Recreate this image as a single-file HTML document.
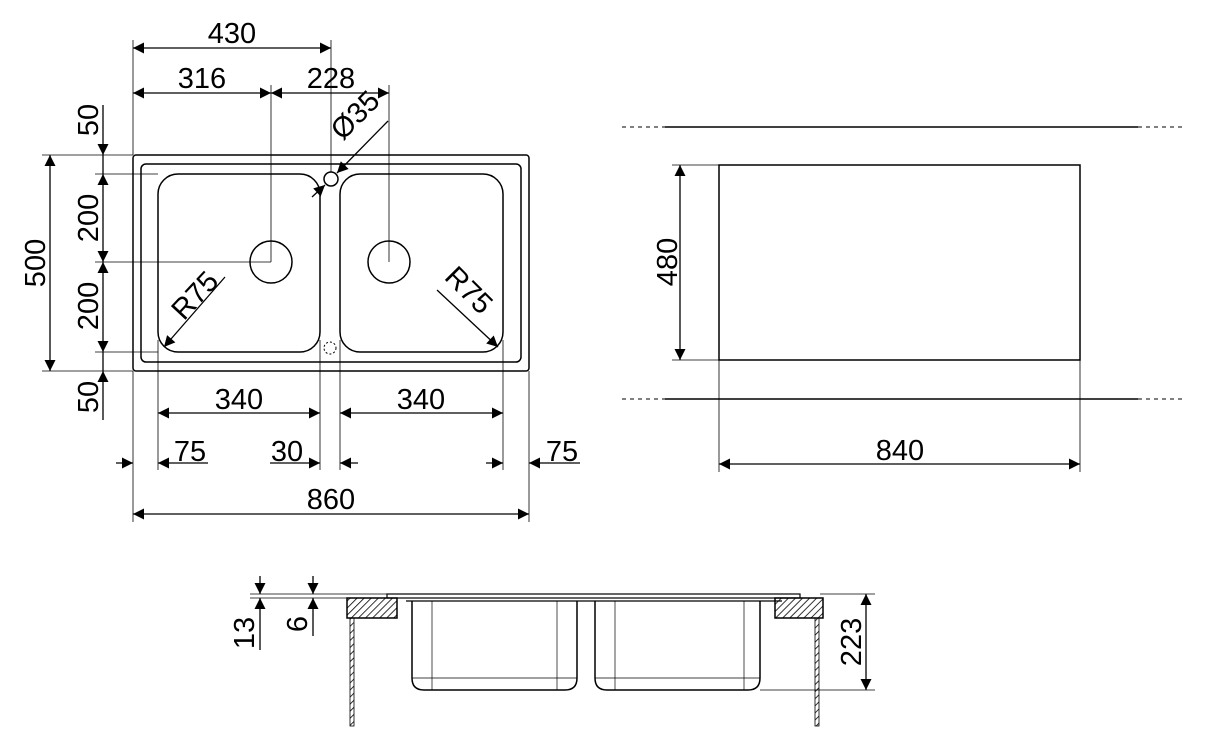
<!DOCTYPE html>
<html><head><style>
html,body{margin:0;padding:0;background:#fff;}
svg{display:block;}
text{font-family:"Liberation Sans",sans-serif;font-size:29px;fill:#000;}
</style></head><body>
<svg width="1206" height="748" viewBox="0 0 1206 748" xmlns="http://www.w3.org/2000/svg">
<defs>
<marker id="a" viewBox="0 0 10 10" refX="10" refY="5" markerWidth="17" markerHeight="11" markerUnits="userSpaceOnUse" orient="auto-start-reverse"><path d="M0,0 L10,5 L0,10 z" fill="#000"/></marker>
<pattern id="h" width="5" height="5" patternUnits="userSpaceOnUse" patternTransform="rotate(45)"><line x1="0" y1="0" x2="0" y2="5" stroke="#000" stroke-width="1.6"/></pattern>
</defs>
<g fill="none" stroke="#000" stroke-width="1.5">
<rect x="133" y="155" width="396" height="216" rx="3"/>
<rect x="141" y="164" width="380" height="198" rx="5"/>
<rect x="158" y="174" width="162" height="178" rx="20"/>
<rect x="340" y="174" width="163" height="178" rx="20"/>
<circle cx="271" cy="262" r="21"/>
<circle cx="389" cy="262" r="21"/>
<circle cx="331" cy="179" r="7"/>
<circle cx="330" cy="348" r="6" stroke-dasharray="2,2" stroke-width="1"/>
</g>
<g stroke="#000" stroke-width="0.8" fill="none">
<line x1="133" y1="40" x2="133" y2="155"/><line x1="331" y1="40" x2="331" y2="172"/>
<line x1="271" y1="85" x2="271" y2="262"/><line x1="389" y1="85" x2="389" y2="262"/>
<line x1="42" y1="155" x2="133" y2="155"/><line x1="42" y1="371" x2="133" y2="371"/>
<line x1="95" y1="174" x2="158" y2="174"/><line x1="95" y1="262" x2="271" y2="262"/><line x1="95" y1="352" x2="158" y2="352"/>
<line x1="133" y1="371" x2="133" y2="522"/><line x1="529" y1="371" x2="529" y2="522"/>
<line x1="158" y1="340" x2="158" y2="470"/><line x1="320" y1="340" x2="320" y2="470"/><line x1="340" y1="340" x2="340" y2="470"/><line x1="503" y1="340" x2="503" y2="470"/>
<line x1="719" y1="360" x2="719" y2="472"/><line x1="1080" y1="360" x2="1080" y2="472"/>
<line x1="672" y1="165" x2="719" y2="165"/><line x1="672" y1="360" x2="719" y2="360"/>
<line x1="250" y1="594" x2="400" y2="594"/><line x1="250" y1="598" x2="347" y2="598"/>
<line x1="820" y1="594" x2="875" y2="594"/><line x1="760" y1="690" x2="875" y2="690"/>
</g>
<g stroke="#000" stroke-width="1.3" fill="none">
<line x1="133" y1="48" x2="331" y2="48" marker-start="url(#a)" marker-end="url(#a)"/>
<line x1="133" y1="93" x2="271" y2="93" marker-start="url(#a)" marker-end="url(#a)"/>
<line x1="271" y1="93" x2="389" y2="93" marker-start="url(#a)" marker-end="url(#a)"/>
<line x1="388" y1="121" x2="337" y2="173" marker-end="url(#a)"/>
<line x1="312" y1="197" x2="325" y2="185" marker-end="url(#a)"/>
<line x1="50" y1="155" x2="50" y2="371" marker-start="url(#a)" marker-end="url(#a)"/>
<line x1="103" y1="105" x2="103" y2="155" marker-end="url(#a)"/>
<line x1="103" y1="174" x2="103" y2="262" marker-start="url(#a)" marker-end="url(#a)"/>
<line x1="103" y1="262" x2="103" y2="352" marker-start="url(#a)" marker-end="url(#a)"/>
<line x1="103" y1="420" x2="103" y2="371" marker-end="url(#a)"/>
<line x1="103" y1="155" x2="103" y2="174"/>
<line x1="103" y1="352" x2="103" y2="371"/>
<line x1="225" y1="277" x2="164" y2="347" marker-end="url(#a)"/>
<line x1="437" y1="290" x2="498" y2="347" marker-end="url(#a)"/>
<line x1="158" y1="413" x2="320" y2="413" marker-start="url(#a)" marker-end="url(#a)"/>
<line x1="340" y1="413" x2="503" y2="413" marker-start="url(#a)" marker-end="url(#a)"/>
<line x1="116" y1="463" x2="133" y2="463" marker-end="url(#a)"/>
<line x1="208" y1="463" x2="158" y2="463" marker-end="url(#a)"/>
<line x1="270" y1="463" x2="320" y2="463" marker-end="url(#a)"/>
<line x1="358" y1="463" x2="340" y2="463" marker-end="url(#a)"/>
<line x1="486" y1="463" x2="503" y2="463" marker-end="url(#a)"/>
<line x1="580" y1="463" x2="529" y2="463" marker-end="url(#a)"/>
<line x1="133" y1="514" x2="529" y2="514" marker-start="url(#a)" marker-end="url(#a)"/>
<line x1="680" y1="165" x2="680" y2="360" marker-start="url(#a)" marker-end="url(#a)"/>
<line x1="719" y1="464" x2="1080" y2="464" marker-start="url(#a)" marker-end="url(#a)"/>
<line x1="260" y1="576" x2="260" y2="594" marker-end="url(#a)"/>
<line x1="260" y1="650" x2="260" y2="598" marker-end="url(#a)"/>
<line x1="313" y1="576" x2="313" y2="594" marker-end="url(#a)"/>
<line x1="313" y1="636" x2="313" y2="598" marker-end="url(#a)"/>
<line x1="866" y1="594" x2="866" y2="690" marker-start="url(#a)" marker-end="url(#a)"/>
</g>
<g stroke="#000" stroke-width="1.5" fill="none">
<rect x="719" y="165" width="361" height="195"/>
<line x1="665" y1="127" x2="1138" y2="127"/><line x1="665" y1="399" x2="1138" y2="399"/>
<line x1="622" y1="127" x2="665" y2="127" stroke-dasharray="4,4" stroke-width="1"/>
<line x1="1138" y1="127" x2="1183" y2="127" stroke-dasharray="4,4" stroke-width="1"/>
<line x1="622" y1="399" x2="665" y2="399" stroke-dasharray="4,4" stroke-width="1"/>
<line x1="1138" y1="399" x2="1183" y2="399" stroke-dasharray="4,4" stroke-width="1"/>
<rect x="387" y="594" width="413" height="4" stroke-width="1.2"/>
<line x1="406" y1="601" x2="782" y2="601" stroke-width="1.2"/>
<path d="M412,601 V678 Q412,690 424,690 H565 Q577,690 577,678 V601"/>
<path d="M595,601 V678 Q595,690 607,690 H748 Q760,690 760,678 V601"/>
<g stroke-width="0.7"><line x1="432" y1="601" x2="432" y2="690"/><line x1="557" y1="601" x2="557" y2="690"/><line x1="412" y1="678" x2="577" y2="678"/>
<line x1="615" y1="601" x2="615" y2="690"/><line x1="744" y1="601" x2="744" y2="690"/><line x1="595" y1="678" x2="760" y2="678"/></g>
<rect x="347" y="598" width="50" height="20" fill="url(#h)"/>
<rect x="775" y="598" width="48" height="20" fill="url(#h)"/>
<rect x="350" y="618" width="4" height="108" fill="url(#h)" stroke-width="0.8"/>
<rect x="815" y="618" width="4" height="108" fill="url(#h)" stroke-width="0.8"/>
</g>
<text x="232" y="43" text-anchor="middle">430</text>
<text x="202" y="88" text-anchor="middle">316</text>
<text x="331" y="88" text-anchor="middle">228</text>
<text transform="translate(362,122) rotate(-45)" text-anchor="middle">Ø35</text>
<text transform="translate(45,263) rotate(-90)" text-anchor="middle">500</text>
<text transform="translate(98,120) rotate(-90)" text-anchor="middle">50</text>
<text transform="translate(98,218) rotate(-90)" text-anchor="middle">200</text>
<text transform="translate(98,306) rotate(-90)" text-anchor="middle">200</text>
<text transform="translate(98,397) rotate(-90)" text-anchor="middle">50</text>
<text transform="translate(202,302) rotate(-47)" text-anchor="middle">R75</text>
<text transform="translate(462,297) rotate(45)" text-anchor="middle">R75</text>
<text x="239" y="409" text-anchor="middle">340</text>
<text x="421" y="409" text-anchor="middle">340</text>
<text x="190" y="461" text-anchor="middle">75</text>
<text x="287" y="461" text-anchor="middle">30</text>
<text x="562" y="461" text-anchor="middle">75</text>
<text x="331" y="509" text-anchor="middle">860</text>
<text transform="translate(677,262) rotate(-90)" text-anchor="middle">480</text>
<text x="900" y="460" text-anchor="middle">840</text>
<text transform="translate(254,633) rotate(-90)" text-anchor="middle">13</text>
<text transform="translate(307,624) rotate(-90)" text-anchor="middle">6</text>
<text transform="translate(861,642) rotate(-90)" text-anchor="middle">223</text>
</svg>
</body></html>
